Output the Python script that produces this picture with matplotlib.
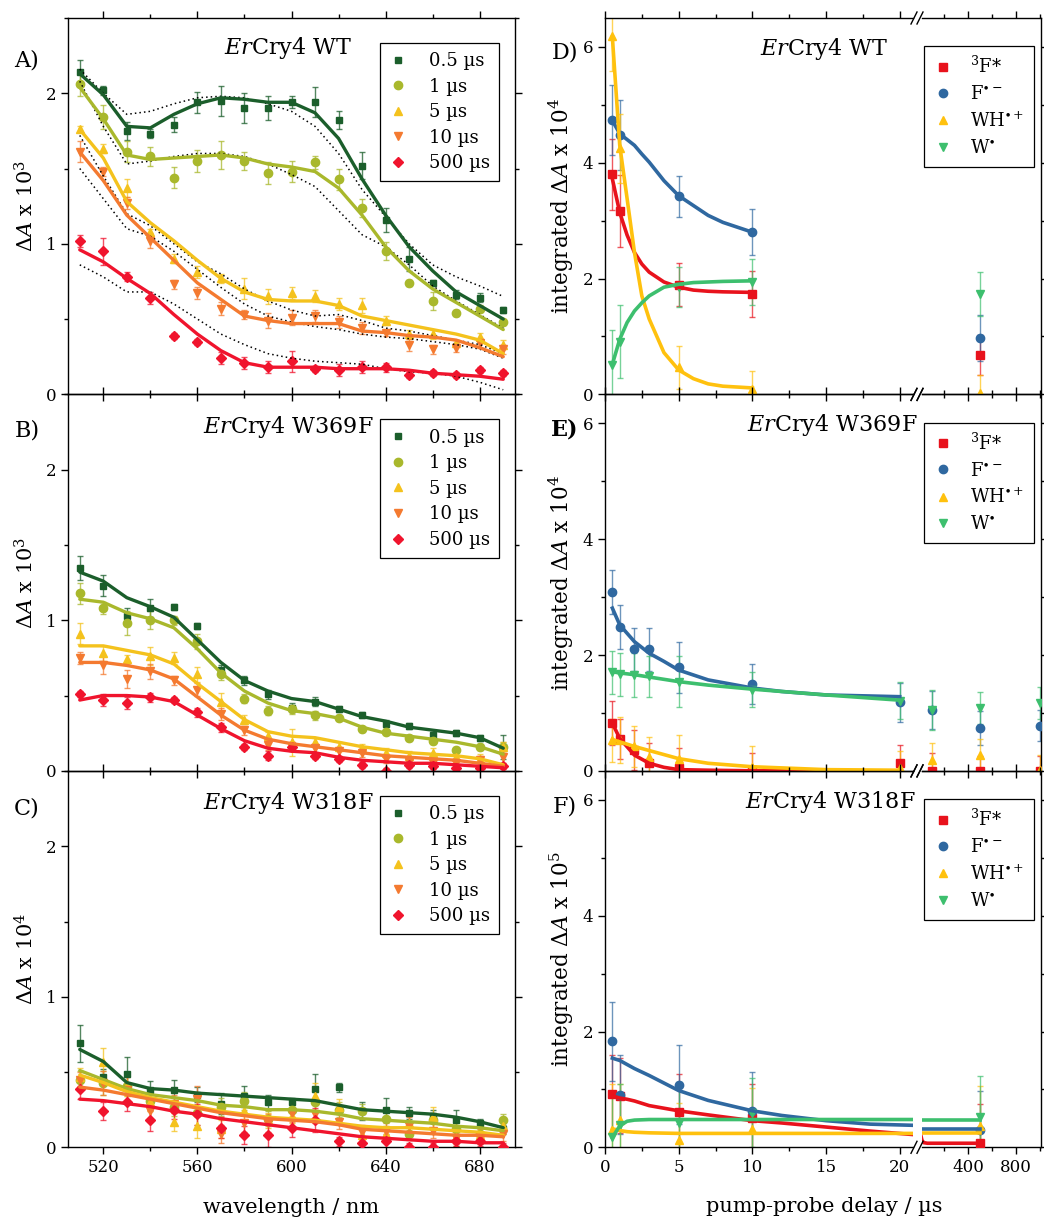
import numpy as np
import matplotlib
matplotlib.use('Agg')
import matplotlib.pyplot as plt
from matplotlib.lines import Line2D
from matplotlib.ticker import FixedLocator

plt.rcParams['font.family'] = ['DejaVu Serif']
plt.rcParams['mathtext.fontset'] = 'dejavuserif'

# ---------------- data : left panels (spectra) ----------------
wavelength = [510, 520, 530, 540, 550, 560, 570, 580, 590, 600,
              610, 620, 630, 640, 650, 660, 670, 680, 690]
delay_labels = ['0.5 µs', '1 µs', '5 µs', '10 µs', '500 µs']

# Panel A  (ErCry4 WT, x 10^3)
A_05 = [2.14, 2.02, 1.75, 1.73, 1.79, 1.94, 1.95, 1.90, 1.90, 1.94, 1.94, 1.82, 1.52, 1.16, 0.90, 0.74, 0.66, 0.64, 0.56]
A_1 = [2.06, 1.84, 1.61, 1.58, 1.44, 1.55, 1.59, 1.55, 1.47, 1.48, 1.54, 1.43, 1.24, 0.95, 0.74, 0.62, 0.54, 0.57, 0.48]
A_5 = [1.76, 1.63, 1.37, 1.08, 0.90, 0.81, 0.77, 0.70, 0.65, 0.67, 0.65, 0.60, 0.59, 0.49, 0.40, 0.40, 0.34, 0.38, 0.33]
A_10 = [1.61, 1.48, 1.27, 1.02, 0.73, 0.67, 0.57, 0.53, 0.49, 0.51, 0.52, 0.48, 0.44, 0.41, 0.33, 0.30, 0.31, 0.34, 0.30]
A_500 = [1.02, 0.95, 0.78, 0.64, 0.39, 0.35, 0.24, 0.21, 0.18, 0.22, 0.17, 0.16, 0.18, 0.18, 0.13, 0.14, 0.13, 0.16, 0.14]
A_05_err = [0.08, 0.03, 0.06, 0.03, 0.05, 0.07, 0.10, 0.10, 0.08, 0.04, 0.10, 0.06, 0.09, 0.08, 0.08, 0.02, 0.03, 0.03, 0.02]
A_1_err = [0.08, 0.08, 0.07, 0.06, 0.07, 0.07, 0.09, 0.06, 0.07, 0.07, 0.04, 0.07, 0.06, 0.06, 0.02, 0.06, 0.02, 0.02, 0.02]
A_5_err = [0.02, 0.03, 0.06, 0.02, 0.03, 0.04, 0.03, 0.07, 0.05, 0.04, 0.04, 0.04, 0.05, 0.03, 0.03, 0.03, 0.02, 0.03, 0.03]
A_10_err = [0.07, 0.03, 0.04, 0.05, 0.03, 0.04, 0.04, 0.03, 0.05, 0.05, 0.04, 0.04, 0.04, 0.02, 0.04, 0.03, 0.03, 0.03, 0.03]
A_500_err = [0.04, 0.09, 0.03, 0.04, 0.02, 0.02, 0.04, 0.04, 0.04, 0.07, 0.02, 0.04, 0.04, 0.03, 0.02, 0.02, 0.02, 0.02, 0.02]
A_05_fit = [2.13, 1.99, 1.78, 1.77, 1.86, 1.93, 1.97, 1.96, 1.94, 1.94, 1.87, 1.70, 1.43, 1.19, 0.98, 0.82, 0.68, 0.59, 0.50]
A_1_fit = [2.04, 1.83, 1.59, 1.56, 1.57, 1.58, 1.59, 1.57, 1.53, 1.51, 1.48, 1.37, 1.19, 0.98, 0.82, 0.70, 0.61, 0.52, 0.43]
A_5_fit = [1.76, 1.57, 1.28, 1.14, 1.02, 0.89, 0.77, 0.68, 0.63, 0.62, 0.62, 0.59, 0.52, 0.49, 0.46, 0.43, 0.40, 0.36, 0.27]
A_10_fit = [1.61, 1.42, 1.19, 1.04, 0.89, 0.74, 0.63, 0.52, 0.49, 0.47, 0.47, 0.47, 0.42, 0.41, 0.39, 0.38, 0.36, 0.31, 0.25]
A_500_fit = [0.96, 0.88, 0.77, 0.67, 0.53, 0.40, 0.29, 0.21, 0.18, 0.18, 0.18, 0.17, 0.17, 0.17, 0.16, 0.14, 0.13, 0.12, 0.10]
# dotted reference spectra in panel A
A_dot1 = [2.16, 2.00, 1.86, 1.88, 1.93, 1.97, 1.98, 1.97, 1.93, 1.88, 1.78, 1.60, 1.36, 1.18, 1.00, 0.86, 0.78, 0.72, 0.65]
A_dot2 = [2.08, 1.78, 1.53, 1.55, 1.58, 1.60, 1.60, 1.58, 1.53, 1.46, 1.38, 1.22, 1.06, 0.98, 0.86, 0.72, 0.62, 0.53, 0.44]
A_dot3 = [1.72, 1.45, 1.20, 1.12, 1.00, 0.88, 0.80, 0.70, 0.62, 0.56, 0.52, 0.53, 0.49, 0.44, 0.42, 0.39, 0.36, 0.33, 0.27]
A_dot4 = [1.50, 1.30, 1.10, 1.05, 0.95, 0.83, 0.71, 0.60, 0.52, 0.48, 0.45, 0.43, 0.40, 0.38, 0.37, 0.35, 0.33, 0.30, 0.24]
A_dot5 = [0.86, 0.78, 0.68, 0.68, 0.60, 0.50, 0.40, 0.33, 0.27, 0.24, 0.22, 0.21, 0.20, 0.17, 0.15, 0.14, 0.12, 0.08, 0.03]

# Panel B  (ErCry4 W369F, x 10^3)
B_05 = [1.35, 1.23, 1.03, 1.08, 1.09, 0.96, 0.67, 0.60, 0.51, 0.42, 0.46, 0.41, 0.37, 0.31, 0.30, 0.24, 0.25, 0.22, 0.16]
B_1 = [1.18, 1.08, 0.98, 1.00, 1.00, 0.86, 0.64, 0.48, 0.40, 0.41, 0.37, 0.35, 0.28, 0.26, 0.22, 0.20, 0.14, 0.16, 0.16]
B_5 = [0.91, 0.78, 0.74, 0.76, 0.75, 0.64, 0.46, 0.34, 0.23, 0.19, 0.19, 0.16, 0.15, 0.12, 0.10, 0.12, 0.09, 0.08, 0.16]
B_10 = [0.75, 0.70, 0.61, 0.66, 0.60, 0.54, 0.38, 0.27, 0.17, 0.16, 0.15, 0.13, 0.12, 0.08, 0.06, 0.05, 0.05, 0.07, 0.09]
B_500 = [0.51, 0.47, 0.45, 0.49, 0.47, 0.39, 0.29, 0.16, 0.10, 0.16, 0.10, 0.08, 0.04, 0.00, 0.04, 0.03, 0.02, 0.02, 0.03]
B_05_err = [0.08, 0.07, 0.05, 0.06, 0.02, 0.02, 0.03, 0.03, 0.03, 0.03, 0.03, 0.02, 0.02, 0.03, 0.02, 0.02, 0.02, 0.02, 0.08]
B_1_err = [0.07, 0.04, 0.08, 0.06, 0.03, 0.05, 0.04, 0.03, 0.03, 0.03, 0.03, 0.02, 0.02, 0.02, 0.02, 0.02, 0.02, 0.02, 0.03]
B_5_err = [0.07, 0.05, 0.03, 0.06, 0.04, 0.05, 0.06, 0.03, 0.03, 0.09, 0.03, 0.03, 0.03, 0.03, 0.03, 0.03, 0.03, 0.03, 0.03]
B_10_err = [0.04, 0.06, 0.06, 0.05, 0.03, 0.04, 0.04, 0.03, 0.03, 0.03, 0.03, 0.03, 0.03, 0.03, 0.03, 0.03, 0.03, 0.03, 0.04]
B_500_err = [0.02, 0.04, 0.04, 0.03, 0.02, 0.03, 0.03, 0.02, 0.03, 0.03, 0.02, 0.02, 0.02, 0.02, 0.02, 0.02, 0.02, 0.02, 0.02]
B_05_fit = [1.32, 1.26, 1.15, 1.09, 1.02, 0.87, 0.72, 0.60, 0.53, 0.48, 0.46, 0.41, 0.36, 0.33, 0.29, 0.27, 0.25, 0.22, 0.15]
B_1_fit = [1.14, 1.12, 1.05, 1.01, 0.95, 0.81, 0.65, 0.53, 0.45, 0.40, 0.38, 0.35, 0.29, 0.25, 0.23, 0.21, 0.19, 0.16, 0.11]
B_5_fit = [0.83, 0.83, 0.80, 0.77, 0.71, 0.58, 0.46, 0.34, 0.26, 0.23, 0.22, 0.19, 0.16, 0.14, 0.12, 0.11, 0.10, 0.08, 0.04]
B_10_fit = [0.72, 0.72, 0.70, 0.67, 0.61, 0.49, 0.37, 0.27, 0.21, 0.18, 0.16, 0.14, 0.12, 0.10, 0.09, 0.08, 0.07, 0.05, 0.03]
B_500_fit = [0.47, 0.50, 0.50, 0.49, 0.46, 0.37, 0.28, 0.20, 0.15, 0.13, 0.12, 0.09, 0.07, 0.06, 0.05, 0.05, 0.04, 0.03, 0.02]

# Panel C  (ErCry4 W318F, x 10^4)
C_05 = [0.69, 0.47, 0.49, 0.38, 0.38, 0.35, 0.29, 0.34, 0.30, 0.30, 0.39, 0.40, 0.24, 0.25, 0.23, 0.21, 0.18, 0.16, 0.12]
C_1 = [0.45, 0.43, 0.41, 0.31, 0.27, 0.23, 0.27, 0.31, 0.19, 0.25, 0.30, 0.25, 0.24, 0.19, 0.09, 0.18, 0.12, 0.09, 0.18]
C_5 = [0.47, 0.57, 0.41, 0.30, 0.17, 0.14, 0.12, 0.24, 0.18, 0.21, 0.34, 0.27, 0.08, 0.09, 0.16, 0.20, 0.07, 0.08, 0.14]
C_10 = [0.45, 0.43, 0.38, 0.24, 0.29, 0.32, 0.09, 0.16, 0.16, 0.23, 0.22, 0.17, 0.10, 0.11, 0.14, 0.11, 0.06, 0.07, 0.09]
C_500 = [0.39, 0.24, 0.30, 0.18, 0.25, 0.22, 0.13, 0.08, 0.08, 0.13, 0.18, 0.04, 0.03, 0.04, 0.00, 0.00, 0.04, 0.04, 0.00]
C_05_err = [0.12, 0.05, 0.11, 0.06, 0.07, 0.05, 0.07, 0.07, 0.05, 0.03, 0.10, 0.03, 0.06, 0.08, 0.04, 0.04, 0.07, 0.03, 0.03]
C_1_err = [0.06, 0.08, 0.07, 0.07, 0.06, 0.08, 0.06, 0.06, 0.05, 0.05, 0.07, 0.05, 0.05, 0.05, 0.04, 0.05, 0.04, 0.04, 0.04]
C_5_err = [0.06, 0.09, 0.07, 0.06, 0.06, 0.08, 0.06, 0.06, 0.05, 0.05, 0.09, 0.05, 0.05, 0.05, 0.05, 0.07, 0.05, 0.05, 0.05]
C_10_err = [0.05, 0.08, 0.09, 0.06, 0.06, 0.09, 0.06, 0.06, 0.06, 0.06, 0.06, 0.05, 0.05, 0.05, 0.06, 0.05, 0.05, 0.05, 0.05]
C_500_err = [0.07, 0.06, 0.06, 0.07, 0.06, 0.07, 0.07, 0.06, 0.08, 0.06, 0.08, 0.03, 0.03, 0.05, 0.03, 0.03, 0.03, 0.03, 0.03]
C_05_fit = [0.65, 0.57, 0.43, 0.39, 0.38, 0.36, 0.35, 0.34, 0.33, 0.32, 0.31, 0.28, 0.25, 0.24, 0.23, 0.22, 0.20, 0.17, 0.13]
C_1_fit = [0.51, 0.45, 0.39, 0.35, 0.33, 0.31, 0.28, 0.27, 0.25, 0.25, 0.24, 0.22, 0.19, 0.18, 0.17, 0.16, 0.14, 0.13, 0.11]
C_5_fit = [0.48, 0.43, 0.37, 0.33, 0.30, 0.27, 0.24, 0.22, 0.20, 0.19, 0.18, 0.16, 0.14, 0.13, 0.13, 0.12, 0.11, 0.10, 0.08]
C_10_fit = [0.40, 0.38, 0.35, 0.32, 0.29, 0.26, 0.23, 0.21, 0.19, 0.18, 0.17, 0.15, 0.12, 0.11, 0.10, 0.09, 0.08, 0.08, 0.07]
C_500_fit = [0.32, 0.31, 0.29, 0.27, 0.24, 0.22, 0.19, 0.17, 0.15, 0.13, 0.11, 0.09, 0.07, 0.06, 0.05, 0.04, 0.04, 0.03, 0.03]

# ---------------- data : right panels (kinetics) ----------------
species_labels = [r'$^3$F*', r'F$^{\bullet-}$', r'WH$^{\bullet+}$', r'W$^{\bullet}$']

# Panel D (WT, x 10^4)
D_t = [0.5, 1, 5, 10, 500]
D_F3 = [3.80, 3.16, 1.89, 1.73, 0.68]
D_F3_err = [0.61, 0.62, 0.37, 0.40, 0.35]
D_Frad = [4.74, 4.48, 3.42, 2.80, 0.97]
D_Frad_err = [0.60, 0.60, 0.35, 0.40, 0.40]
D_WH = [6.19, 4.25, 0.47, 0.10, 0.03]
D_WH_err = [0.60, 0.60, 0.37, 0.30, 0.30]
D_W = [0.51, 0.91, 1.85, 1.94, 1.73]
D_W_err = [0.60, 0.63, 0.35, 0.40, 0.38]
D_fit_t = [0.5, 1, 1.5, 2, 2.5, 3, 4, 5, 6, 7, 8, 10]
D_F3_fit = [3.72, 3.14, 2.75, 2.45, 2.25, 2.11, 1.94, 1.85, 1.80, 1.78, 1.77, 1.76]
D_Frad_fit = [4.73, 4.50, 4.40, 4.30, 4.15, 4.01, 3.69, 3.43, 3.26, 3.09, 2.97, 2.80]
D_WH_fit = [6.17, 4.30, 3.38, 2.45, 1.70, 1.30, 0.72, 0.42, 0.27, 0.18, 0.14, 0.11]
D_W_fit = [0.52, 0.95, 1.24, 1.44, 1.58, 1.70, 1.85, 1.90, 1.93, 1.94, 1.95, 1.96]

# Panel E (W369F, x 10^4)
E_t = [0.5, 1, 2, 3, 5, 10, 20, 100, 500, 1000]
E_F3 = [0.82, 0.55, 0.36, 0.13, 0.04, 0.01, 0.14, 0.00, 0.00, 0.00]
E_F3_err = [0.38, 0.35, 0.35, 0.35, 0.35, 0.30, 0.30, 0.30, 0.25, 0.25]
E_Frad = [3.09, 2.48, 2.10, 2.10, 1.79, 1.50, 1.18, 1.05, 0.74, 0.78]
E_Frad_err = [0.38, 0.38, 0.37, 0.37, 0.44, 0.35, 0.33, 0.33, 0.30, 0.27]
E_WH = [0.53, 0.53, 0.42, 0.24, 0.21, 0.07, 0.04, 0.18, 0.27, 0.02]
E_WH_err = [0.37, 0.40, 0.35, 0.35, 0.40, 0.35, 0.30, 0.30, 0.28, 0.25]
E_W = [1.70, 1.67, 1.66, 1.63, 1.54, 1.40, 1.21, 1.05, 1.08, 1.17]
E_W_err = [0.37, 0.37, 0.38, 0.35, 0.44, 0.30, 0.32, 0.35, 0.28, 0.27]
E_fit_t = [0.5, 1, 2, 3, 4, 5, 7, 10, 12, 15, 20]
E_F3_fit = [0.82, 0.56, 0.27, 0.13, 0.06, 0.02, 0.01, 0.00, 0.00, 0.00, 0.00]
E_Frad_fit = [2.81, 2.52, 2.23, 2.03, 1.89, 1.74, 1.57, 1.43, 1.37, 1.31, 1.28]
E_WH_fit = [0.54, 0.50, 0.42, 0.35, 0.28, 0.21, 0.13, 0.07, 0.05, 0.02, 0.01]
E_W_fit = [1.71, 1.69, 1.66, 1.62, 1.58, 1.54, 1.48, 1.41, 1.37, 1.31, 1.22]

# Panel F (W318F, x 10^5)
F_t = [0.5, 1, 5, 10, 500]
F_F3 = [0.92, 0.89, 0.61, 0.50, 0.07]
F_F3_err = [0.68, 0.65, 0.65, 0.60, 0.68]
F_Frad = [1.83, 0.91, 1.08, 0.62, 0.30]
F_Frad_err = [0.68, 0.68, 0.68, 0.68, 0.68]
F_WH = [0.30, 0.47, 0.12, 0.32, 0.36]
F_WH_err = [0.80, 0.62, 0.65, 0.70, 0.70]
F_W = [0.17, 0.39, 0.42, 0.60, 0.53]
F_W_err = [0.70, 0.70, 0.70, 0.60, 0.70]
F_fit_t = [0.5, 1, 1.5, 2, 3, 5, 7, 10, 12, 15, 18, 20.9]
F_F3_fit = [0.89, 0.85, 0.83, 0.80, 0.72, 0.63, 0.56, 0.46, 0.42, 0.35, 0.28, 0.22]
F_Frad_fit = [1.54, 1.50, 1.43, 1.36, 1.24, 0.98, 0.81, 0.63, 0.55, 0.46, 0.40, 0.38]
F_WH_fit = [0.32, 0.29, 0.27, 0.26, 0.25, 0.24, 0.24, 0.24, 0.24, 0.24, 0.24, 0.24]
F_W_fit = [0.17, 0.37, 0.45, 0.47, 0.48, 0.48, 0.48, 0.48, 0.48, 0.48, 0.48, 0.48]
F_fit_t2 = [0, 15, 30, 60, 500]
F_F3_fit2 = [0.25, 0.12, 0.08, 0.07, 0.07]
F_Frad_fit2 = [0.32, 0.32, 0.32, 0.32, 0.32]
F_WH_fit2 = [0.24, 0.24, 0.24, 0.24, 0.24]
F_W_fit2 = [0.48, 0.48, 0.48, 0.48, 0.48]

# ---------------- styles ----------------
spec_colors = ['#1b5e2b', '#a9b82c', '#f4c21d', '#f47a30', '#f0142d']
spec_markers = ['s', 'o', '^', 'v', 'D']
spec_msize = [5, 6, 6, 6, 5]
kin_colors = ['#e8121c', '#2f68a0', '#ffc10e', '#3dbf6e']
kin_markers = ['s', 'o', '^', 'v']

W, H = 1044, 1220
fig = plt.figure(figsize=(W / 100, H / 100), dpi=100)


def fx(px):
    return px / W


def fy(py):
    return 1 - py / H


rows_top = [18, 394.5, 771]
row_h = 376.3
LX0, LX1 = 68, 515
RX0, RX1 = 605, 913
R2X0, R2X1 = 922, 1041
T_SPLIT = 21

tick_fs = 12


def style_ticks(ax):
    ax.tick_params(which='both', direction='out', top=True, right=True,
                   labelsize=tick_fs, width=1)
    ax.tick_params(which='major', length=5)
    ax.tick_params(which='minor', length=3)
    for s in ax.spines.values():
        s.set_linewidth(1)


left_sets = [
    ([A_05, A_1, A_5, A_10, A_500], [A_05_err, A_1_err, A_5_err, A_10_err, A_500_err],
     [A_05_fit, A_1_fit, A_5_fit, A_10_fit, A_500_fit], 'A)', r'$\mathit{Er}$Cry4 WT', r'Δ$A$ x 10$^3$', 42, 30),
    ([B_05, B_1, B_5, B_10, B_500], [B_05_err, B_1_err, B_5_err, B_10_err, B_500_err],
     [B_05_fit, B_1_fit, B_5_fit, B_10_fit, B_500_fit], 'B)', r'$\mathit{Er}$Cry4 W369F', r'Δ$A$ x 10$^3$', 36, 32),
    ([C_05, C_1, C_5, C_10, C_500], [C_05_err, C_1_err, C_5_err, C_10_err, C_500_err],
     [C_05_fit, C_1_fit, C_5_fit, C_10_fit, C_500_fit], 'C)', r'$\mathit{Er}$Cry4 W318F', r'Δ$A$ x 10$^4$', 37, 32),
]

for i, (vals, errs, fits, letter, title, ylab, let_dy, tit_dy) in enumerate(left_sets):
    top = rows_top[i]
    ax = fig.add_axes([fx(LX0), fy(top + row_h), fx(LX1 - LX0), row_h / H])
    handles = []
    for k in range(5):
        ax.errorbar(wavelength, vals[k], yerr=errs[k], fmt='none', ecolor=spec_colors[k],
                    elinewidth=1, capsize=2.5, capthick=1, alpha=0.75, zorder=2)
        h, = ax.plot(wavelength, vals[k], linestyle='none', marker=spec_markers[k],
                     ms=spec_msize[k], color=spec_colors[k], zorder=3)
        handles.append(h)
    if i == 0:
        for d in [A_dot1, A_dot2, A_dot3, A_dot4, A_dot5]:
            ax.plot(wavelength, d, linestyle=(0, (1, 2)), color='black', lw=1.1, zorder=4)
    for k in range(5):
        ax.plot(wavelength, fits[k], color=spec_colors[k], lw=2.4, zorder=5,
                solid_capstyle='round', solid_joinstyle='round')
    ax.set_xlim(505, 695)
    ax.set_ylim(0, 2.5)
    ax.xaxis.set_major_locator(FixedLocator([520, 560, 600, 640, 680]))
    ax.xaxis.set_minor_locator(FixedLocator([540, 580, 620, 660]))
    ax.yaxis.set_major_locator(FixedLocator([0, 1, 2]))
    ax.yaxis.set_minor_locator(FixedLocator([0.5, 1.5, 2.5]))
    style_ticks(ax)
    if i < 2:
        ax.tick_params(labelbottom=False)
    ax.patch.set_alpha(0)
    ax.set_ylabel(ylab, fontsize=15)
    ax.yaxis.set_label_coords((38 - LX0) / (LX1 - LX0), 0.5)
    fig.text(fx(288), fy(top + tit_dy), title, fontsize=16, ha='center', va='center')
    fig.text(fx(27), fy(top + let_dy), letter, fontsize=16, ha='center', va='center')
    leg = ax.legend(handles, delay_labels, loc='upper right',
                    bbox_to_anchor=(fx(499), fy(top + 25)), bbox_transform=fig.transFigure,
                    fontsize=13, frameon=True, fancybox=False, framealpha=1,
                    edgecolor='black', handlelength=1.0, handletextpad=1.2,
                    labelspacing=0.42, borderpad=0.5, borderaxespad=0)
    leg.get_frame().set_linewidth(0.9)
    if i == 2:
        ax.set_xlabel('wavelength / nm', fontsize=15, labelpad=16)

right_sets = [
    ('D)', r'$\mathit{Er}$Cry4 WT', r'integrated Δ$A$ x 10$^4$', D_t,
     [D_F3, D_Frad, D_WH, D_W], [D_F3_err, D_Frad_err, D_WH_err, D_W_err],
     D_fit_t, [D_F3_fit, D_Frad_fit, D_WH_fit, D_W_fit], None, None, 824),
    ('E)', r'$\mathit{Er}$Cry4 W369F', r'integrated Δ$A$ x 10$^4$', E_t,
     [E_F3, E_Frad, E_WH, E_W], [E_F3_err, E_Frad_err, E_WH_err, E_W_err],
     E_fit_t, [E_F3_fit, E_Frad_fit, E_WH_fit, E_W_fit], None, None, 832),
    ('F)', r'$\mathit{Er}$Cry4 W318F', r'integrated Δ$A$ x 10$^5$', F_t,
     [F_F3, F_Frad, F_WH, F_W], [F_F3_err, F_Frad_err, F_WH_err, F_W_err],
     F_fit_t, [F_F3_fit, F_Frad_fit, F_WH_fit, F_W_fit],
     F_fit_t2, [F_F3_fit2, F_Frad_fit2, F_WH_fit2, F_W_fit2], 830),
]

for i, (letter, title, ylab, t, vals, errs, ft, fits, ft2, fits2, tx) in enumerate(right_sets):
    top = rows_top[i]
    ax1 = fig.add_axes([fx(RX0), fy(top + row_h), fx(RX1 - RX0), row_h / H])
    ax2 = fig.add_axes([fx(R2X0), fy(top + row_h), fx(R2X1 - R2X0), row_h / H])
    t_arr = np.asarray(t, dtype=float)
    handles = []
    for ax, sel in ((ax1, t_arr <= T_SPLIT), (ax2, t_arr > T_SPLIT)):
        for k in range(4):
            v = np.asarray(vals[k])[sel]
            e = np.asarray(errs[k])[sel]
            ax.errorbar(t_arr[sel], v, yerr=e, fmt='none', ecolor=kin_colors[k],
                        elinewidth=1, capsize=2.5, capthick=1, alpha=0.7, zorder=2)
            h, = ax.plot(t_arr[sel], v, linestyle='none', marker=kin_markers[k], ms=6,
                         color=kin_colors[k], zorder=3)
            if ax is ax1:
                handles.append(h)
    for k in range(4):
        ax1.plot(ft, fits[k], color=kin_colors[k], lw=2.6, zorder=4)
        if ft2 is not None:
            ax2.plot(ft2, fits2[k], color=kin_colors[k], lw=2.6, zorder=4)
    ax1.set_xlim(0, 20.9)
    ax2.set_xlim(15, 1012)
    for ax in (ax1, ax2):
        ax.set_ylim(0, 6.5)
        ax.yaxis.set_major_locator(FixedLocator([0, 2, 4, 6]))
        ax.yaxis.set_minor_locator(FixedLocator([1, 3, 5]))
        style_ticks(ax)
        ax.patch.set_alpha(0)
    ax1.xaxis.set_major_locator(FixedLocator([0, 5, 10, 15, 20]))
    ax1.xaxis.set_minor_locator(FixedLocator([2.5, 7.5, 12.5, 17.5]))
    ax2.xaxis.set_major_locator(FixedLocator([400, 800]))
    ax2.xaxis.set_minor_locator(FixedLocator([200, 600, 1000]))
    ax1.spines['right'].set_visible(False)
    ax1.tick_params(which='both', right=False)
    ax2.spines['left'].set_visible(False)
    ax2.tick_params(which='both', left=False, labelleft=False)
    if i < 2:
        ax1.tick_params(labelbottom=False)
        ax2.tick_params(labelbottom=False)
    ax1.set_ylabel(ylab, fontsize=15.5)
    ax1.yaxis.set_label_coords((576 - RX0) / (RX1 - RX0), 0.5)
    fig.text(fx(tx), fy(top + 31), title, fontsize=16, ha='center', va='center')
    fig.text(fx(565), fy(top + 35), letter, fontsize=16, ha='center', va='center',
             fontweight='bold' if letter == 'E)' else 'normal')
    leg = ax2.legend(handles, species_labels, loc='upper right',
                     bbox_to_anchor=(fx(1034), fy(top + 28)), bbox_transform=fig.transFigure,
                     fontsize=13, frameon=True, fancybox=False, framealpha=1,
                     edgecolor='black', handlelength=1.0, handletextpad=1.0,
                     labelspacing=0.45, borderpad=0.55, borderaxespad=0)
    leg.get_frame().set_linewidth(0.9)
    # break marks
    for yy in (top, top + row_h):
        for x0 in (911, 917):
            fig.add_artist(Line2D([fx(x0), fx(x0 + 6)], [fy(yy + 6), fy(yy - 6)],
                                  transform=fig.transFigure, color='black', lw=1))

fig.text(fx(824), fy(1207), 'pump-probe delay / µs', fontsize=15, ha='center', va='center')

fig.savefig('out.png', dpi=100)
